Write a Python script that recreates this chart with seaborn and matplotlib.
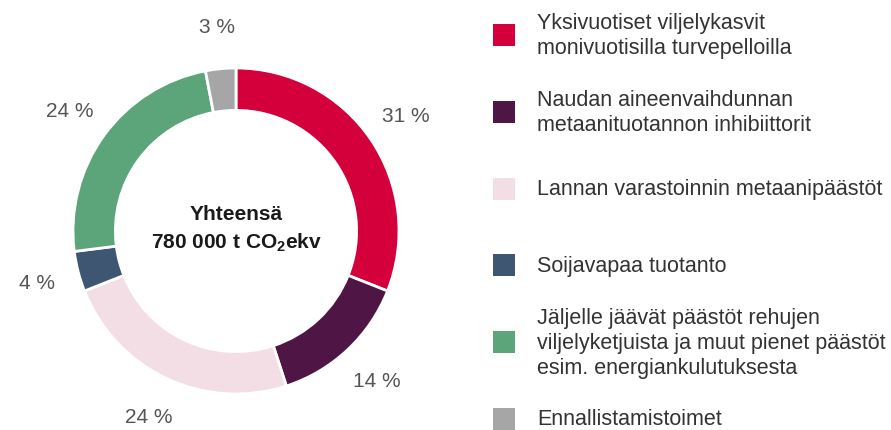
import matplotlib
matplotlib.use("Agg")
import matplotlib.pyplot as plt
import seaborn as sns
from matplotlib.patches import Rectangle

categories = [
    "Yksivuotiset viljelykasvit\nmonivuotisilla turvepelloilla",
    "Naudan aineenvaihdunnan\nmetaanituotannon inhibiittorit",
    "Lannan varastoinnin metaanipäästöt",
    "Soijavapaa tuotanto",
    "Jäljelle jäävät päästöt rehujen\nviljelyketjuista ja muut pienet päästöt\nesim. energiankulutuksesta",
    "Ennallistamistoimet",
]
shares = [31, 14, 24, 4, 24, 3]
colors = ["#D4003C", "#4F1544", "#F2DEE4", "#3F5673", "#5CA57A", "#A6A6A6"]
center_title = "Yhteensä"
center_total = r"780 000 t CO$_{\mathbf{2}}$ekv"

sns.set_style("white")
plt.rcParams["font.family"] = ["Liberation Sans", "DejaVu Sans"]
plt.rcParams["mathtext.fontset"] = "custom"
plt.rcParams["mathtext.rm"] = "Liberation Sans"
plt.rcParams["mathtext.bf"] = "Liberation Sans:bold"

W, H = 891, 431
fig = plt.figure(figsize=(W / 100, H / 100), dpi=100)
fig.patch.set_facecolor("white")

cx, cy, R = 236, 232, 163
ax = fig.add_axes([(cx - R) / W, (H - cy - R) / H, 2 * R / W, 2 * R / H])
wedges, texts, autotexts = ax.pie(
    shares,
    colors=colors,
    startangle=90,
    counterclock=False,
    radius=1.0,
    wedgeprops=dict(width=0.26, edgecolor="white", linewidth=2),
    autopct=lambda p: f"{p:.0f} %",
    pctdistance=1.26,
    textprops=dict(color="#555555", fontsize=15),
)
ax.set_xlim(-1, 1)
ax.set_ylim(-1, 1)
ax.set_aspect("equal")
ax.axis("off")

ax.text(0, 0.105, center_title, ha="center", va="center", fontsize=15,
        fontweight="bold", color="#1a1a1a")
ax.text(0, -0.065, center_total, ha="center", va="center", fontsize=15,
        fontweight="bold", color="#1a1a1a")

# legend
top = 36
step = 76.8
sq = 22
for i, (lab, col) in enumerate(zip(categories, colors)):
    yc = top + i * step
    fig.patches.append(Rectangle((493 / W, (H - yc - sq / 2) / H), sq / W, sq / H,
                                 transform=fig.transFigure, facecolor=col,
                                 edgecolor="none"))
    fig.text(537 / W, (H - yc) / H, lab, ha="left", va="center",
             fontsize=15.5, color="#333333", linespacing=1.25)

fig.savefig("out.png", dpi=100, facecolor="white")
